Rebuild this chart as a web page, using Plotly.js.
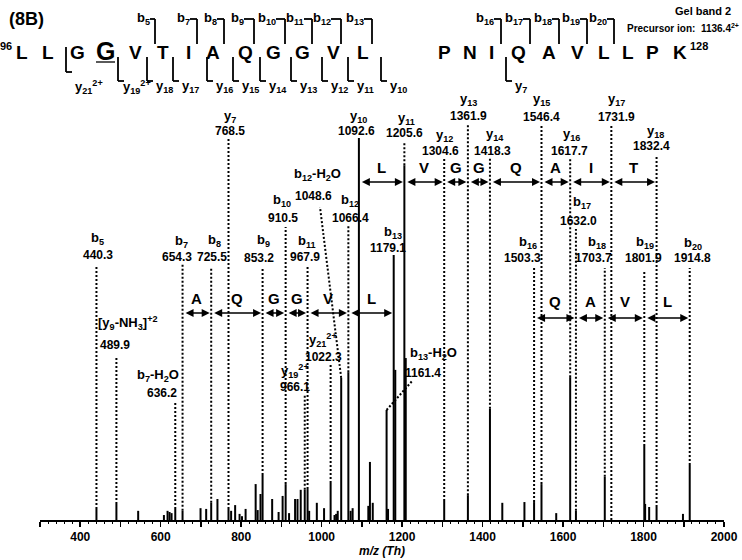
<!DOCTYPE html>
<html><head><meta charset="utf-8">
<script src="https://cdn.plot.ly/plotly-3.0.1.min.js"></script>
<style>html,body{margin:0;padding:0;background:#fff}#chart{width:742px;height:560px}</style>
</head><body><div id="chart"></div>
<script>
// ---------------- DATA ----------------
const peakMz = [440.3, 489.9, 544, 608, 617, 622, 627, 636.2, 654.3, 699, 713, 725.5, 741, 768.5, 775, 785, 796, 802, 811, 836, 841, 848, 853.2, 877, 893, 903, 910.5, 919, 934, 940, 948, 958, 965, 969, 988, 1006, 1022.3, 1032, 1036, 1040, 1048.6, 1066.4, 1072, 1077, 1092.6, 1116, 1120, 1127, 1161.4, 1165, 1179.1, 1183, 1205.6, 1209, 1304.6, 1363.5, 1418.3, 1449, 1504, 1528, 1546.4, 1583, 1617.7, 1632.0, 1703.7, 1801.9, 1804, 1814, 1832.4, 1898, 1914.8];
const peakInt = [2.9, 4.2, 2.4, 1.3, 2.4, 2.1, 1.8, 2.9, 2.4, 3.1, 2.9, 4.5, 5.5, 2.9, 2.4, 3.9, 1.6, 1.0, 2.9, 9.4, 2.6, 6.8, 11.8, 5.5, 2.1, 6.3, 9.4, 1.8, 5.5, 5.5, 7.9, 7.9, 8.1, 2.4, 4.5, 3.1, 9.7, 1.3, 1.6, 2.4, 37.2, 38.7, 2.4, 3.1, 100, 3.7, 15.2, 4.5, 28.8, 2.9, 69.4, 39.3, 92.9, 42.4, 5.0, 6.5, 29.1, 4.5, 4.7, 4.7, 9.4, 1.8, 37.4, 2.4, 11.3, 19.4, 4.2, 3.4, 3.4, 1.6, 14.4];

const ionNames = ['b<sub>5</sub>','[y<sub>9</sub>-NH<sub>3</sub>]<sup>+2</sup>','b<sub>7</sub>-H<sub>2</sub>O','b<sub>7</sub>','b<sub>8</sub>','y<sub>7</sub>','b<sub>9</sub>','b<sub>10</sub>','y<sub>19</sub><sup>2+</sup>','b<sub>11</sub>','y<sub>21</sub><sup>2+</sup>','b<sub>12</sub>-H<sub>2</sub>O','b<sub>12</sub>','y<sub>10</sub>','b<sub>13</sub>-H<sub>2</sub>O','b<sub>13</sub>','y<sub>11</sub>','y<sub>12</sub>','y<sub>13</sub>','y<sub>14</sub>','b<sub>16</sub>','y<sub>15</sub>','y<sub>16</sub>','b<sub>17</sub>','b<sub>18</sub>','y<sub>17</sub>','b<sub>19</sub>','y<sub>18</sub>','b<sub>20</sub>'];
const ionMz = [440.3, 489.9, 636.2, 654.3, 725.5, 768.5, 853.2, 910.5, 966.1, 967.9, 1022.3, 1048.6, 1066.4, 1092.6, 1161.4, 1179.1, 1205.6, 1304.6, 1361.9, 1418.3, 1503.3, 1546.4, 1617.7, 1632.0, 1703.7, 1731.9, 1801.9, 1832.4, 1914.8];
// m/z where each ion's guide line is drawn in the picture
const ionLineMz = [440.3, 489.9, 636.2, 654.3, 725.5, 768.5, 853.2, 910.5, 958, 965, 1022.3, 1048.6, 1066.4, 1092.6, 1161.4, 1179.1, 1205.6, 1304.6, 1363.5, 1418.3, 1528, 1546.4, 1617.7, 1632.0, 1703.7, 1720, 1801.9, 1832.4, 1914.8];

const sequence = ['L','L','G','G','V','T','I','A','Q','G','G','V','L','P','N','I','Q','A','V','L','L','P','K'];
const bIons = ['b<sub>5</sub>','b<sub>7</sub>','b<sub>8</sub>','b<sub>9</sub>','b<sub>10</sub>','b<sub>11</sub>','b<sub>12</sub>','b<sub>13</sub>','b<sub>16</sub>','b<sub>17</sub>','b<sub>18</sub>','b<sub>19</sub>','b<sub>20</sub>'];
const yIons = ['y<sub>21</sub><sup>2+</sup>','y<sub>19</sub><sup>2+</sup>','y<sub>18</sub>','y<sub>17</sub>','y<sub>16</sub>','y<sub>15</sub>','y<sub>14</sub>','y<sub>13</sub>','y<sub>12</sub>','y<sub>11</sub>','y<sub>10</sub>','y<sub>7</sub>'];

// residue ladders: [from m/z, to m/z, residue]
const yLadderFrom = [1092.6, 1205.6, 1304.6, 1363.5, 1418.3, 1546.4, 1617.7, 1720];
const yLadderTo   = [1205.6, 1304.6, 1363.5, 1418.3, 1546.4, 1617.7, 1720, 1832.4];
const yLadderAA   = ['L','V','G','G','Q','A','I','T'];
const bLadderFrom = [654.3, 725.5, 853.2, 910.5, 965, 1066.4];
const bLadderTo   = [725.5, 853.2, 910.5, 965, 1066.4, 1179.1];
const bLadderAA   = ['A','Q','G','G','V','L'];
const b2LadderFrom = [1528, 1632.0, 1703.7, 1801.9];
const b2LadderTo   = [1632.0, 1703.7, 1801.9, 1914.8];
const b2LadderAA   = ['Q','A','V','L'];

const tickVals = [300,400,500,600,700,800,900,1000,1100,1200,1300,1400,1500,1600,1700,1800,1900,2000];
const tickLabels = ['','400','','600','','800','','1000','','1200','','1400','','1600','','1800','','2000'];

// ---------------- LAYOUT GEOMETRY (pixels) ----------------
const W=742, H=560, ML=40, MR=18, MT=0, MB=40;
const PW = W-ML-MR, PH = H-MT-MB;
const XMIN=300, XMAX=2000, YMAX=136.13;
const X = px => (px-ML)/PW;            // px -> paper x
const Y = py => (H-MB-py)/PH;          // py -> paper y
const dX = px => XMIN + (px-ML)*(XMAX-XMIN)/PW;  // px -> data x
const dY = py => (H-MB-py)*YMAX/PH;    // py -> data y

// label placements (pixels)
const nameX = [97,128,158,181,214,230,263,282,295,307,323,317,350,358,433,393,406,445,468,495,528,541,571,582,597,616,645,655,693];
const nameY = [238,323,375,241,240,117,240,201,371,241,340,174,201,117,353,233,119,136,100,135,242,100,135,203,242,100,242,131,243];
const valX  = [98,115,162,177,212,230,259,283,295,305,323,313,350,356,423,388,405,440,468,492,522,541,569,578,593,616,643,651,692];
const valY  = [255,345,393,257,257,131,258,218,387,257,357,196,218,131,373,248,133,151,116,151,258,117,151,221,258,117,258,146,258];
const lineTopY = [265,358,403,264,268,138,267,227,394,265,365,207,226,null,380,null,142,159,124,158,268,126,158,229,268,126,270,155,268];
const lineTopX = {11:320, 14:413};

const seqX = [22,48,77,105,135,163,188,213,245,273,302,333,363,444,470,491,518,549,577,604,628,652,680];
const bLabX = [143,183,210,237,267,295,322,355,485,514,543,571,598];
const bVertX = [155,197,224,254,285,312,341,372,501,530,559,587,614];
const yVertX = [66,118,147,173,207,233,260,291,322,348,381,506];

// ---------------- BUILD ----------------
const bold = {family:'Arial, "Liberation Sans", sans-serif', color:'#000', weight:'bold'};
const f = s => Object.assign({}, bold, {size:s});

const px=[], py=[];
peakMz.forEach((m,i)=>{ px.push(m,m,null); py.push(0,peakInt[i],null); });
function peakAt(m){ let best=0, bd=1.6; peakMz.forEach((p,i)=>{ if(Math.abs(p-m)<bd){bd=Math.abs(p-m); best=peakInt[i];} }); return best; }

const traces = [{x:px, y:py, type:'scatter', mode:'lines', line:{color:'#000', width:2}, hoverinfo:'skip', showlegend:false}];

const ann = [], shapes = [];
const dot = {color:'#000', width:2, dash:'2px,2px'};
const solid = w => ({color:'#000', width:w});

// ion labels + guide lines
ionNames.forEach((n,i)=>{
  ann.push({xref:'paper', yref:'paper', x:X(nameX[i]), y:Y(nameY[i]), text:n, showarrow:false, font:f(13), xanchor:'center', yanchor:'middle'});
  ann.push({xref:'paper', yref:'paper', x:X(valX[i]), y:Y(valY[i]), text:ionMz[i].toFixed(1), showarrow:false, font:f(12), xanchor:'center', yanchor:'middle'});
  if (lineTopY[i] !== null) {
    const xTop = (i in lineTopX) ? dX(lineTopX[i]) : ionLineMz[i];
    shapes.push({type:'line', xref:'x', yref:'y', x0:ionLineMz[i], y0:peakAt(ionLineMz[i]), x1:xTop, y1:dY(lineTopY[i]), line:dot});
  }
});

// ladders
function ladder(from, to, aa, arrowPy, letterPy){
  aa.forEach((a,i)=>{
    ann.push({xref:'x', yref:'paper', x:to[i], y:Y(arrowPy), axref:'x', ax:from[i], ayref:'pixel', ay:0, text:'', showarrow:true,
      arrowside:'end+start', arrowhead:2, startarrowhead:2, arrowsize:1, startarrowsize:1, arrowwidth:1.6, arrowcolor:'#000', standoff:1.5, startstandoff:1.5});
    ann.push({xref:'x', yref:'paper', x:(from[i]+to[i])/2, y:Y(letterPy), text:a, showarrow:false, font:f(15), xanchor:'center', yanchor:'middle'});
  });
}
ladder(yLadderFrom, yLadderTo, yLadderAA, 182, 168);
ladder(bLadderFrom, bLadderTo, bLadderAA, 313, 298);
ladder(b2LadderFrom, b2LadderTo, b2LadderAA, 318, 302);

// header: panel tag, sequence, fragment brackets
ann.push({xref:'paper', yref:'paper', x:X(7), y:Y(19), text:'(8B)', showarrow:false, font:f(18), xanchor:'left', yanchor:'middle'});
ann.push({xref:'paper', yref:'paper', x:X(703), y:Y(11), text:'Gel band 2', showarrow:false, font:f(11), xanchor:'center', yanchor:'middle'});
ann.push({xref:'paper', yref:'paper', x:X(741), y:Y(28), text:'Precursor ion:  1136.4<sup>2+</sup>', showarrow:false, font:f(10), xanchor:'right', yanchor:'middle'});
sequence.forEach((s,i)=>{
  ann.push({xref:'paper', yref:'paper', x:X(seqX[i]), y:Y(i===3?51:53), text:s, showarrow:false, font:f(i===3?25:19), xanchor:'center', yanchor:'middle'});
});
ann.push({xref:'paper', yref:'paper', x:X(14), y:Y(46), text:'96', showarrow:false, font:f(11), xanchor:'right', yanchor:'middle'});
ann.push({xref:'paper', yref:'paper', x:X(688), y:Y(46), text:'128', showarrow:false, font:f(11), xanchor:'left', yanchor:'middle'});
shapes.push({type:'line', xref:'paper', yref:'paper', x0:X(96), x1:X(115), y0:Y(62), y1:Y(62), line:solid(1.3)});

bIons.forEach((b,i)=>{
  ann.push({xref:'paper', yref:'paper', x:X(bLabX[i]), y:Y(19), text:b, showarrow:false, font:f(13), xanchor:'center', yanchor:'middle'});
  const half = b.indexOf('</sub>')-b.indexOf('<sub>')-5 > 1 ? 9 : 7;
  shapes.push({type:'line', xref:'paper', yref:'paper', x0:X(bLabX[i]+half), x1:X(bVertX[i]), y0:Y(19), y1:Y(19), line:solid(1.8)});
  shapes.push({type:'line', xref:'paper', yref:'paper', x0:X(bVertX[i]), x1:X(bVertX[i]), y0:Y(19), y1:Y(44), line:solid(1.8)});
});
yIons.forEach((yn,i)=>{
  const top = i===0 ? 47 : 57, bot = i===0 ? 72 : 81;
  shapes.push({type:'line', xref:'paper', yref:'paper', x0:X(yVertX[i]), x1:X(yVertX[i]), y0:Y(top), y1:Y(bot), line:solid(1.8)});
  shapes.push({type:'line', xref:'paper', yref:'paper', x0:X(yVertX[i]), x1:X(yVertX[i]+6), y0:Y(bot), y1:Y(bot), line:solid(1.8)});
  ann.push({xref:'paper', yref:'paper', x:X(yVertX[i]+(i===1?3:7)), y:Y(87), text:yn, showarrow:false, font:f(13), xanchor:'left', yanchor:'middle'});
});

const layout = {
  width:W, height:H, margin:{l:ML, r:MR, t:MT, b:MB, pad:0},
  paper_bgcolor:'#fff', plot_bgcolor:'#fff', showlegend:false, hovermode:false,
  xaxis:{range:[XMIN,XMAX], showgrid:false, zeroline:false, showline:true, linecolor:'#000', linewidth:2,
    ticks:'outside', ticklen:5, tickwidth:1.5, tickcolor:'#000', tickvals:tickVals, ticktext:tickLabels,
    tickfont:f(12), minor:{dtick:20, ticks:'outside', ticklen:2, tickwidth:1, tickcolor:'#000'},
    title:{text:'<i>m/z (Th)</i>', font:f(12), standoff:2}, fixedrange:true},
  yaxis:{range:[0,YMAX], visible:false, fixedrange:true},
  annotations:ann, shapes:shapes
};
Plotly.newPlot('chart', traces, layout, {staticPlot:true, displayModeBar:false});
</script></body></html>
